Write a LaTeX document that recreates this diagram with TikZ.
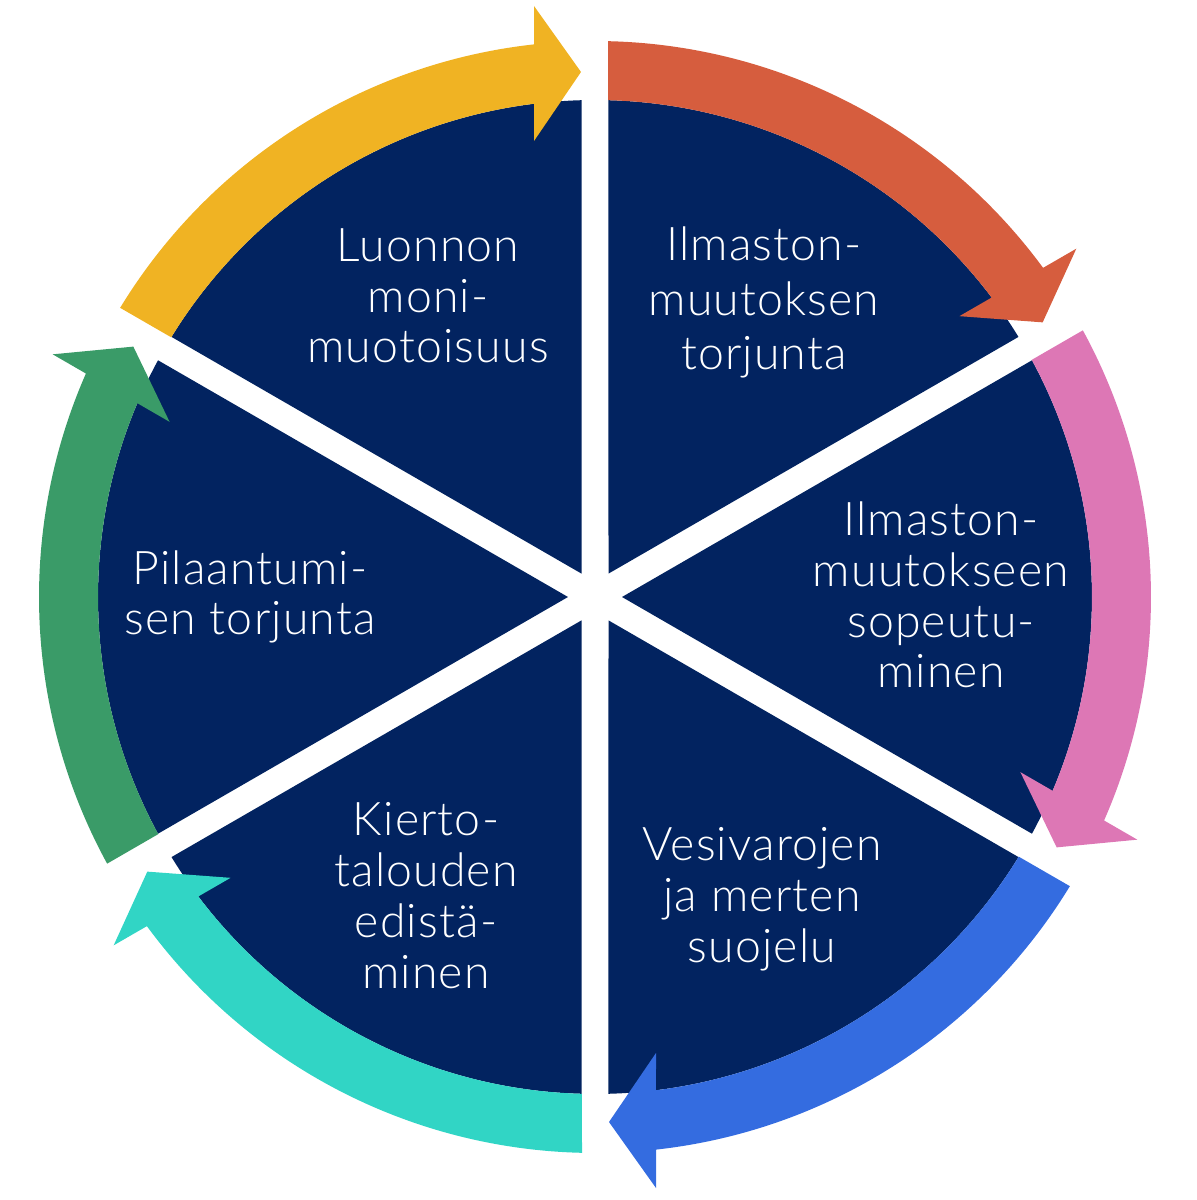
\documentclass[tikz,border=0pt]{standalone}
\usepackage{fontspec}
\usepackage{xcolor}
\newfontfamily\wheelfont{Lato}[UprightFont=* Light, LetterSpace=2.5]
\usetikzlibrary{positioning}

\definecolor{wheelnavy}{HTML}{022360}
\definecolor{arrowyellow}{HTML}{F0B323}
\definecolor{arroworange}{HTML}{D65D3E}
\definecolor{arrowpink}{HTML}{DD77B5}
\definecolor{arrowblue}{HTML}{346CE0}
\definecolor{arrowteal}{HTML}{31D5C5}
\definecolor{arrowgreen}{HTML}{3A9B68}

\begin{document}
\begin{tikzpicture}[
    x=0.1mm, y=0.1mm,
    sector_style/.style={fill=wheelnavy},
    label_style/.style={white, align=center, anchor=base, inner sep=0pt,
        font=\wheelfont\fontsize{13.2}{14.5}\selectfont}
]
    \useasboundingbox (-595,-603) rectangle (601,597);

    % Sectors
    \foreach \a in {30,90,...,330}
        \fill[sector_style] ({\a+30}:27) -- ({\a+1.556}:497)
            arc[start angle=\a+1.556, end angle=\a+58.444, radius=497] -- cycle;

    % Arrows
    \foreach \rot/\col in {90/arrowyellow, 30/arroworange, -30/arrowpink,
                           -90/arrowblue, -150/arrowteal, 150/arrowgreen}
    {
        \begin{scope}[rotate=\rot]
            \fill[\col] (58.66:556) arc[start angle=58.66, end angle=6.30, radius=556]
                -- (591,61) -- (525,14) -- (456,61) -- (7.05:497)
                arc[start angle=7.05, end angle=58.50, radius=497] -- cycle;
        \end{scope}
    }

    % Labels (anchored at the baseline of the last line)
    \node[label_style] (luonto) at (-167,234) {Luonnon\\moni-\\muotoisuus};
    \node[label_style, font=\wheelfont\fontsize{13.2}{15.6}\selectfont] (ilmasto) at (169,227)
        {Ilmaston-\\muutoksen\\torjunta};
    \node[label_style] (sopeutuminen) at (346,-91) {Ilmaston-\\muutokseen\\sopeutu-\\minen};
    \node[label_style] (vesi) at (167,-365) {Vesivarojen\\ja merten\\suojelu};
    \node[label_style] (kiertotalous) at (-169,-391) {Kierto-\\talouden\\edistä-\\minen};
    \node[label_style] (pilaantuminen) at (-345,-38) {Pilaantumi-\\sen torjunta};
\end{tikzpicture}
\end{document}
